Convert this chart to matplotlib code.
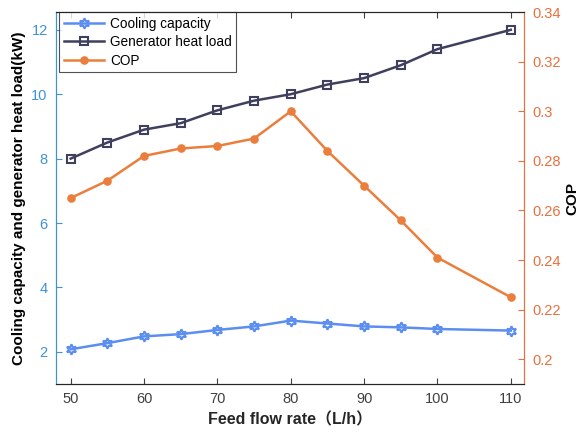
import matplotlib

matplotlib.use("Agg")
import matplotlib.pyplot as plt

flow = [50, 55, 60, 65, 70, 75, 80, 85, 90, 95, 100, 110]
cooling = [2.08, 2.27, 2.48, 2.55, 2.68, 2.79, 2.97, 2.88, 2.79, 2.76, 2.71, 2.66]
generator = [8.0, 8.5, 8.9, 9.1, 9.5, 9.8, 10.0, 10.3, 10.5, 10.9, 11.4, 12.0]
cop = [0.265, 0.272, 0.282, 0.285, 0.286, 0.289, 0.300, 0.284, 0.270, 0.256, 0.241, 0.225]

x_ticks = [50, 60, 70, 80, 90, 100, 110]
left_ticks = [2, 4, 6, 8, 10, 12]
right_ticks = [0.2, 0.22, 0.24, 0.26, 0.28, 0.3, 0.32, 0.34]
right_labels = ["0.2", "0.22", "0.24", "0.26", "0.28", "0.3", "0.32", "0.34"]

_BLUE = "#5b8ef0"
_DARK = "#3f3f5e"
_ORANGE = "#ea7f3d"
_LEFT_AX = "#3d93d8"
_RIGHT_AX = "#e8703e"
_FONT = ["Liberation Sans", "Noto Sans CJK SC"]

plt.rcParams["font.family"] = _FONT

fig = plt.figure(figsize=(5.81, 4.32), dpi=100)
ax = fig.add_axes([0.0964, 0.111, 0.8055, 0.861])
ax2 = ax.twinx()

l1, = ax.plot(flow, cooling, color=_BLUE, lw=1.8, marker=(6, 1, 0), ms=7.5,
              mfc="none", mew=1.5, label="Cooling capacity")
l2, = ax.plot(flow, generator, color=_DARK, lw=1.8, marker="s", ms=5.5,
              mfc="none", mew=1.5, label="Generator heat load")
l3, = ax2.plot(flow, cop, color=_ORANGE, lw=1.8, marker="o", ms=5,
               mew=1.2, label="COP")

ax.set_xlim(48, 111.8)
ax.set_ylim(1.0, 12.55)
ax2.set_ylim(0.19, 0.34)

ax.set_xticks(x_ticks)
ax.set_yticks(left_ticks)
ax2.set_yticks(right_ticks)
ax2.set_yticklabels(right_labels)

ax.tick_params(axis="x", direction="in", top=True, length=4, labelsize=10.5,
               colors="#404040", pad=6)
ax.tick_params(axis="y", direction="in", length=4, labelsize=10.5,
               colors=_LEFT_AX, pad=6)
ax2.tick_params(axis="y", direction="in", length=4, labelsize=10.5,
                colors=_RIGHT_AX, pad=6)

for a in (ax, ax2):
    a.spines["top"].set_color("#262626")
    a.spines["bottom"].set_color("#262626")
    a.spines["left"].set_color(_LEFT_AX)
    a.spines["right"].set_color(_RIGHT_AX)
    for s in a.spines.values():
        s.set_linewidth(0.8)

ax.set_xlabel("Feed flow rate（L/h）", fontsize=11.5, fontweight="bold",
              family=_FONT, color="#262626")
ax.set_ylabel("Cooling capacity and generator heat load(kW)", fontsize=11,
              fontweight="bold", color="black")
ax2.set_ylabel("COP", fontsize=11, fontweight="bold", color="black", labelpad=3)

leg = ax.legend(handles=[l1, l2, l3], loc="upper left", fontsize=9.8,
                frameon=True, fancybox=False, borderaxespad=0,
                bbox_to_anchor=(0.006, 1.0),
                handlelength=3.0, labelspacing=0.32, borderpad=0.35,
                handletextpad=0.4)
leg.get_frame().set_edgecolor("#262626")
leg.get_frame().set_linewidth(0.8)

fig.savefig("out.png", dpi=100)
plt.close(fig)
